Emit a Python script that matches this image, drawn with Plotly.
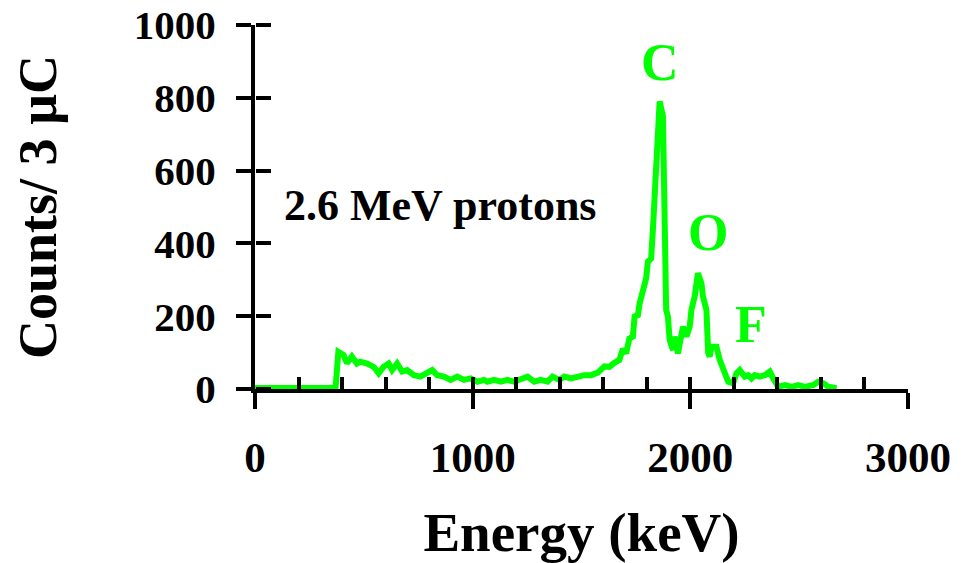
import plotly.graph_objects as go

# Spectrum
energy_kev = [0, 370, 383, 395, 407, 422, 445, 468, 484, 515, 545, 568, 591, 614, 630, 653,
              676, 699, 730, 760, 791, 814, 837, 868, 899, 929, 960, 991, 1022, 1052, 1068,
              1098, 1129, 1160, 1190, 1221, 1252, 1283, 1313, 1344, 1367, 1398, 1421, 1452,
              1482, 1513, 1544, 1575, 1605, 1628, 1651, 1674, 1690, 1705, 1720, 1736, 1744,
              1759, 1767, 1782, 1797, 1805, 1820, 1828, 1836, 1848, 1859, 1874, 1882, 1889,
              1897, 1905, 1920, 1928, 1943, 1959, 1966, 1982, 1997, 2005, 2020, 2035, 2051,
              2058, 2074, 2082, 2089, 2097, 2120, 2135, 2158, 2174, 2197, 2212, 2227, 2250,
              2266, 2281, 2296, 2319, 2342, 2365, 2381, 2404, 2435, 2465, 2496, 2527, 2565,
              2588, 2611, 2634, 2672]
counts = [3, 3, 102, 98, 93, 71, 89, 70, 75, 70, 61, 43, 61, 70, 52, 70,
          48, 52, 38, 34, 43, 52, 38, 34, 25, 34, 25, 29, 20, 25, 20,
          25, 20, 25, 20, 25, 34, 20, 25, 20, 34, 25, 34, 29,
          34, 38, 38, 45, 62, 61, 72, 80, 110, 98, 139, 144, 199,
          203, 235, 263, 304, 350, 359, 437, 547, 647, 790, 750, 547, 217,
          199, 135, 107, 144, 98, 144, 171, 144, 171, 217, 254, 318, 290,
          254, 217, 100, 89, 116, 116, 80, 43, 20, 16, 43, 52, 34,
          38, 29, 38, 34, 38, 48, 29, 6, 11, 6, 11, 6, 11,
          20, 16, 6, 2]

x_ticks = [0, 1000, 2000, 3000]
x_minor_ticks = [0, 200, 400, 600, 800, 1000, 1200, 1400, 1600, 1800, 2000,
                 2200, 2400, 2600, 2800, 3000]
y_ticks = [0, 200, 400, 600, 800, 1000]
x_title = "Energy (keV)"
y_title = "Counts/ 3 µC"
beam_label = "2.6 MeV protons"
peak_labels = ["C", "O", "F"]
peak_label_x = [1860, 2081, 2278]
peak_label_y = [896, 429, 176]

GREEN = "#00ff00"
FONT = "Liberation Serif, Times New Roman, serif"

fig = go.Figure()
fig.add_trace(go.Scatter(x=energy_kev, y=counts, mode="lines",
                         line=dict(color=GREEN, width=6), showlegend=False,
                         hoverinfo="skip"))
# invisible traces so the overlay tick axes are drawn
fig.add_trace(go.Scatter(x=[None], y=[None], xaxis="x2", yaxis="y",
                         mode="lines", showlegend=False, hoverinfo="skip"))
fig.add_trace(go.Scatter(x=[None], y=[None], xaxis="x", yaxis="y2",
                         mode="lines", showlegend=False, hoverinfo="skip"))

# page body has an 8px margin, so the figure is 8px smaller and margins shifted
fig.update_layout(
    width=968, height=555,
    margin=dict(l=247, r=68, t=17, b=174, autoexpand=False),
    paper_bgcolor="white", plot_bgcolor="white",
    font=dict(family=FONT, size=43, color="black", weight=700),
    showlegend=False,
    xaxis=dict(range=[0, 3000], tickvals=x_ticks, ticktext=[str(v) for v in x_ticks],
               ticks="outside", ticklen=16, tickwidth=4, tickcolor="black",
               showline=True, linewidth=4, linecolor="black", showgrid=False,
               zeroline=False, ticklabelstandoff=11, automargin=False,
               ticklabeloverflow="allow",
               tickfont=dict(family=FONT, size=43, weight=700),
               title=dict(text=x_title, standoff=38,
                          font=dict(family=FONT, size=55, weight=700))),
    xaxis2=dict(range=[0, 3000], overlaying="x", anchor="y", side="bottom",
                tickvals=x_minor_ticks, ticks="inside", ticklen=12, tickwidth=4,
                tickcolor="black", showticklabels=False, showline=False,
                showgrid=False, zeroline=False, automargin=False),
    yaxis=dict(range=[0, 1000], tickvals=y_ticks, ticktext=[str(v) for v in y_ticks],
               ticks="outside", ticklen=15, tickwidth=4, tickcolor="black",
               showline=True, linewidth=4, linecolor="black", showgrid=False,
               zeroline=False, ticklabelstandoff=12, automargin=False,
               ticklabeloverflow="allow",
               tickfont=dict(family=FONT, size=41, weight=700),
               title=dict(text=y_title, standoff=70,
                          font=dict(family=FONT, size=54, weight=700))),
    yaxis2=dict(range=[0, 1000], overlaying="y", anchor="free", position=0,
                side="right", tickvals=y_ticks, ticks="outside", ticklen=15,
                tickwidth=4, tickcolor="black", showticklabels=False,
                showline=False, showgrid=False, zeroline=False, automargin=False),
)

fig.add_annotation(x=124, y=503, xref="x", yref="y", text=beam_label, showarrow=False,
                   xanchor="left", yanchor="middle",
                   font=dict(family=FONT, size=44, color="black", weight=700))
for lab, lx, ly in zip(peak_labels, peak_label_x, peak_label_y):
    fig.add_annotation(x=lx, y=ly, xref="x", yref="y", text=lab, showarrow=False,
                       xanchor="center", yanchor="middle",
                       font=dict(family=FONT, size=52, color=GREEN, weight=700))

fig.write_html("out.html")
